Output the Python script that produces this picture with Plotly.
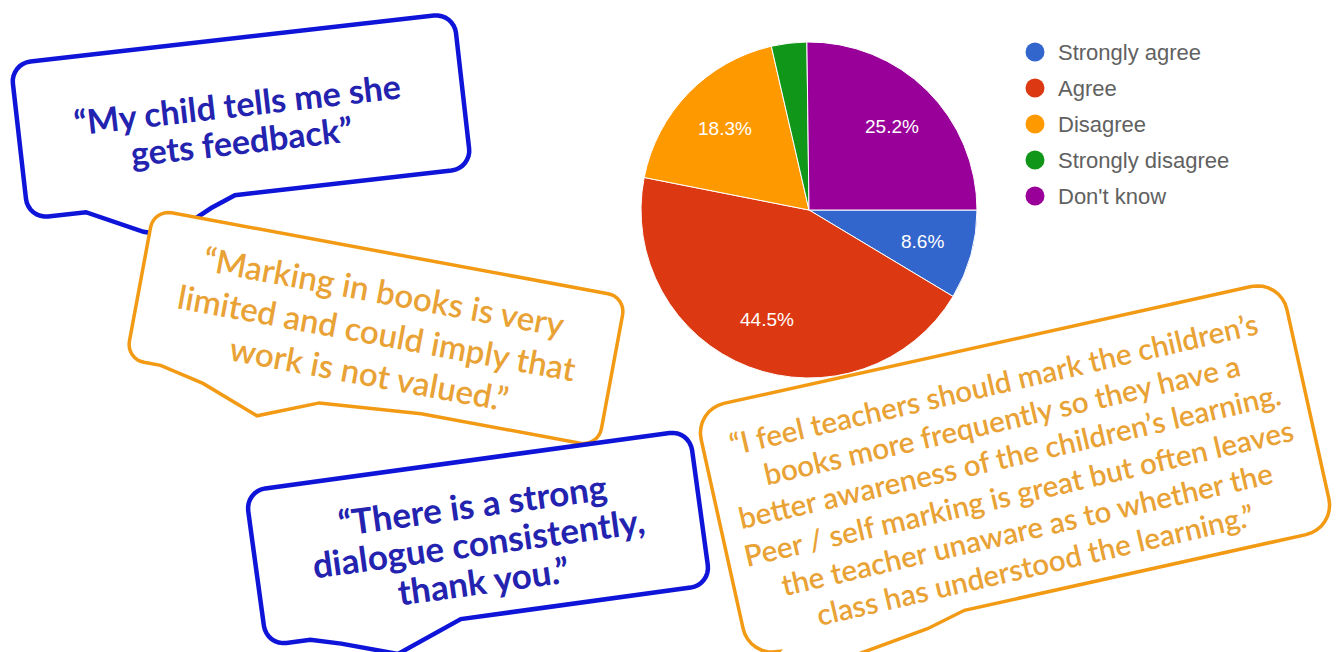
import math
import plotly.graph_objects as go

# ---- data ----
categories = ["Strongly agree", "Agree", "Disagree", "Strongly disagree", "Don't know"]
values = [8.6, 44.5, 18.3, 3.4, 25.2]
colors = ["#3366cc", "#dc3912", "#ff9900", "#109618", "#990099"]

quote1 = ["“My child tells me she", "gets feedback”"]
quote2 = ["“Marking in books is very", "limited and could imply that", "work is not valued.”"]
quote3 = ["“There is a strong", "dialogue consistently,", "thank you.”"]
quote4 = ["“I feel teachers should mark the children’s",
          "books more frequently so they have a",
          "better awareness of the children’s learning.",
          "Peer / self marking is great but often leaves",
          "the teacher unaware as to whether the",
          "class has understood the learning.”"]

W, H = 1338, 652
BLUE_LINE = "#0f14d9"
BLUE_TEXT = "#2323b0"
ORANGE_LINE = "#f39a14"
ORANGE_TEXT = "#e9a235"


def bubble_path(cx, cy, w, h, ang, r, tail):
    pts = []
    def arc(ccx, ccy, a0, a1, n=8):
        for i in range(n + 1):
            a = math.radians(a0 + (a1 - a0) * i / n)
            pts.append((ccx + r * math.cos(a), ccy + r * math.sin(a)))
    arc(-w / 2 + r, -h / 2 + r, 180, 270)
    arc(w / 2 - r, -h / 2 + r, 270, 360)
    arc(w / 2 - r, h / 2 - r, 0, 90)
    for tx, td in tail:
        pts.append((tx, h / 2 + td))
    arc(-w / 2 + r, h / 2 - r, 90, 180)
    t = math.radians(ang)
    c, s = math.cos(t), math.sin(t)
    out = []
    for x, y in pts:
        out.append((cx + x * c - y * s, cy + x * s + y * c))
    return "M " + " L ".join(f"{x:.1f},{y:.1f}" for x, y in out) + " Z"


bubbles = [
    dict(cx=241, cy=116, w=446, h=156, ang=-6.5, r=20,
         tail=[(-15, 0), (-40, 10), (-85, 33), (-110, 26), (-165, 0)],
         line=BLUE_LINE, lw=4.5),
    dict(cx=376, cy=328, w=480, h=152, ang=10.5, r=18,
         tail=[(60, 0), (-42, 8), (-101, 32), (-160, 10), (-205, 0)],
         line=ORANGE_LINE, lw=3.5),
    dict(cx=478, cy=538, w=448, h=156, ang=-7.8, r=20,
         tail=[(-28, 0), (-95, 26), (-150, 8), (-180, 0)],
         line=BLUE_LINE, lw=4.5),
    dict(cx=1015, cy=469, w=600, h=254, ang=-12.5, r=30,
         tail=[(-80, 0), (-120, 10), (-210, 22), (-250, 40), (-280, 8)],
         line=ORANGE_LINE, lw=3.5),
]

texts = [
    dict(lines=quote1, cx=239, cy=122, ang=-6.5, sp=37, size=34, color=BLUE_TEXT, weight="bold"),
    dict(lines=quote2, cx=377, cy=332, ang=10.5, sp=42, size=33, color=ORANGE_TEXT, weight=600),
    dict(lines=quote3, cx=478, cy=542, ang=-7.8, sp=38.5, size=35, color=BLUE_TEXT, weight="bold"),
    dict(lines=quote4, cx=1014, cy=474, ang=-13, sp=37, size=29.5, color=ORANGE_TEXT, weight=600),
]

fig = go.Figure()

pie_cx, pie_cy, pie_r = 809, 210, 168
fig.add_trace(go.Pie(
    labels=categories, values=values, sort=False, direction="clockwise", rotation=90,
    marker=dict(colors=colors, line=dict(color="white", width=1)),
    textinfo="none", showlegend=False, hoverinfo="skip",
    domain=dict(x=[(pie_cx - pie_r) / W, (pie_cx + pie_r) / W],
                y=[1 - (pie_cy + pie_r) / H, 1 - (pie_cy - pie_r) / H]),
))

annotations = []
# percentage labels placed at the middle angle of each slice
total = sum(values)
cum = 0.0
for v in values:
    mid = math.radians(90 + 360 * (cum + v / 2) / total)
    cum += v
    if v / total < 0.05:
        continue
    rr = 0.70 * pie_r
    annotations.append(dict(x=pie_cx + rr * math.sin(mid), y=pie_cy - rr * math.cos(mid),
                            xref="x", yref="y", text=f"{v}%", showarrow=False,
                            xanchor="center", yanchor="middle",
                            font=dict(family="Liberation Sans, Arial", size=19, color="white")))

# legend (circles + labels)
leg_x, leg_y0, leg_dy = 1035, 52, 36
fig.add_trace(go.Scatter(
    x=[leg_x] * len(categories), y=[leg_y0 + i * leg_dy for i in range(len(categories))],
    mode="markers", marker=dict(size=19, color=colors), showlegend=False, hoverinfo="skip",
))
for i, lab in enumerate(categories):
    annotations.append(dict(x=leg_x + 21, y=leg_y0 + i * leg_dy, xref="x", yref="y",
                            text=lab, showarrow=False, xanchor="left", yanchor="middle",
                            font=dict(family="Liberation Sans, Arial", size=22, color="#616161")))

shapes = []
for b in bubbles:
    shapes.append(dict(type="path", xref="x", yref="y",
                       path=bubble_path(b["cx"], b["cy"], b["w"], b["h"], b["ang"], b["r"], b["tail"]),
                       fillcolor="white", line=dict(color=b["line"], width=b["lw"]), layer="above"))

for t in texts:
    n = len(t["lines"])
    th = math.radians(t["ang"])
    px, py = -math.sin(th), math.cos(th)
    for k, line in enumerate(t["lines"]):
        off = (k - (n - 1) / 2) * t["sp"]
        annotations.append(dict(x=t["cx"] + off * px, y=t["cy"] + off * py, xref="x", yref="y",
                                text=line, showarrow=False, textangle=t["ang"],
                                xanchor="center", yanchor="middle",
                                font=dict(family="Lato", size=t["size"], color=t["color"],
                                          weight=t["weight"])))

fig.update_layout(
    width=W, height=H, margin=dict(l=0, r=0, t=0, b=0),
    paper_bgcolor="white", plot_bgcolor="white",
    xaxis=dict(range=[0, W], visible=False, domain=[0, 1], fixedrange=True),
    yaxis=dict(range=[H, 0], visible=False, domain=[0, 1], fixedrange=True),
    shapes=shapes, annotations=annotations,
)
fig.write_html("out.html", config={"displayModeBar": False},
               post_script="document.body.style.margin='0px';")
